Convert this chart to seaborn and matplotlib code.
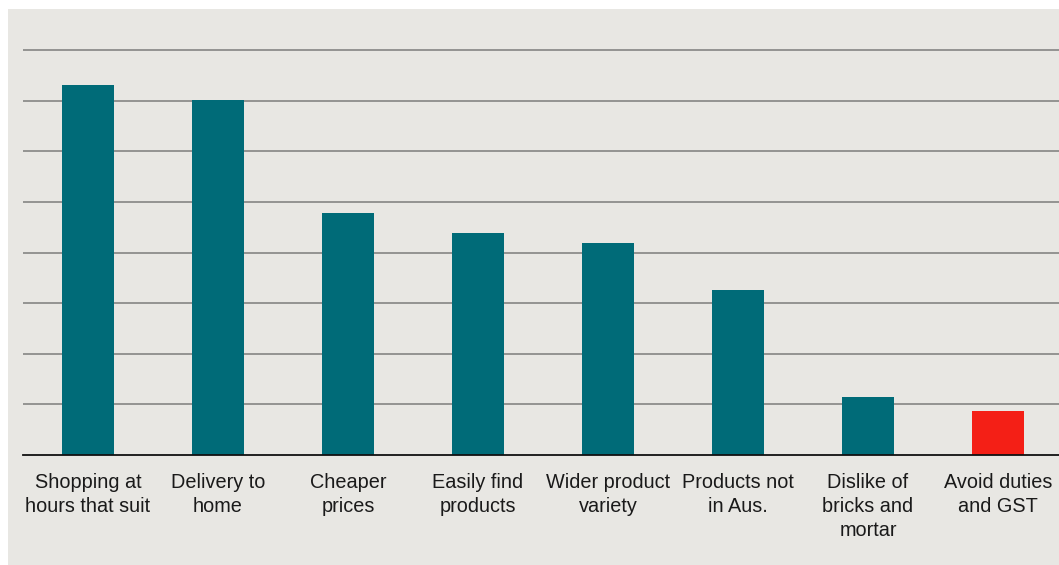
import matplotlib
matplotlib.use("Agg")
import matplotlib.pyplot as plt
import seaborn as sns
import pandas as pd
from matplotlib.patches import Rectangle

categories = ["Shopping at\nhours that suit", "Delivery to\nhome", "Cheaper\nprices",
              "Easily find\nproducts", "Wider product\nvariety", "Products not\nin Aus.",
              "Dislike of\nbricks and\nmortar", "Avoid duties\nand GST"]
values = [36.6, 35.1, 23.9, 21.9, 20.9, 16.3, 5.7, 4.3]
colors = ["#006b78"] * 7 + ["#f41f16"]

sns.set_theme(style="white")
plt.rcParams['font.family'] = ['Liberation Sans', 'DejaVu Sans']

W, H = 1059, 565
fig = plt.figure(figsize=(W / 100, H / 100), dpi=100, facecolor="white")
bg = "#e8e7e3"
fig.patches.append(Rectangle((8 / W, -0.05), 1.1, 1.05 - 9 / H, transform=fig.transFigure,
                             facecolor=bg, edgecolor="none", zorder=-5))

ax_left, ax_right = 23, 1063
ax_bottom, ax_top = 455, 9
ax = fig.add_axes([ax_left / W, 1 - ax_bottom / H, (ax_right - ax_left) / W, (ax_bottom - ax_top) / H])
ax.set_facecolor("none")
ax.set_zorder(2)

df = pd.DataFrame({"cat": categories, "val": values})
sns.barplot(data=df, x="cat", y="val", hue="cat", palette=colors, legend=False,
            width=0.4, ax=ax, saturation=1, zorder=3, linewidth=0, edgecolor="none")

ax.set_xlim(-0.5, 7.5)
ax.set_ylim(0, 5 * (ax_bottom - ax_top) / 50.6)
ax.set_yticks([5 * i for i in range(1, 9)])
ax.set_yticklabels([])
ax.grid(axis="y", color="#858583", linewidth=1.2, zorder=1)
ax.tick_params(axis="y", length=0)
ax.tick_params(axis="x", length=0, pad=13, labelsize=14.3, labelcolor="#1a1a1a")
for lbl in ax.get_xticklabels():
    lbl.set_linespacing(1.32)
ax.set_xlabel("")
ax.set_ylabel("")
for s in ["top", "right", "left"]:
    ax.spines[s].set_visible(False)
ax.spines["bottom"].set_color("#111111")
ax.spines["bottom"].set_linewidth(1.3)
ax.spines["bottom"].set_zorder(4)

fig.savefig("out.png", dpi=100, facecolor="white")
